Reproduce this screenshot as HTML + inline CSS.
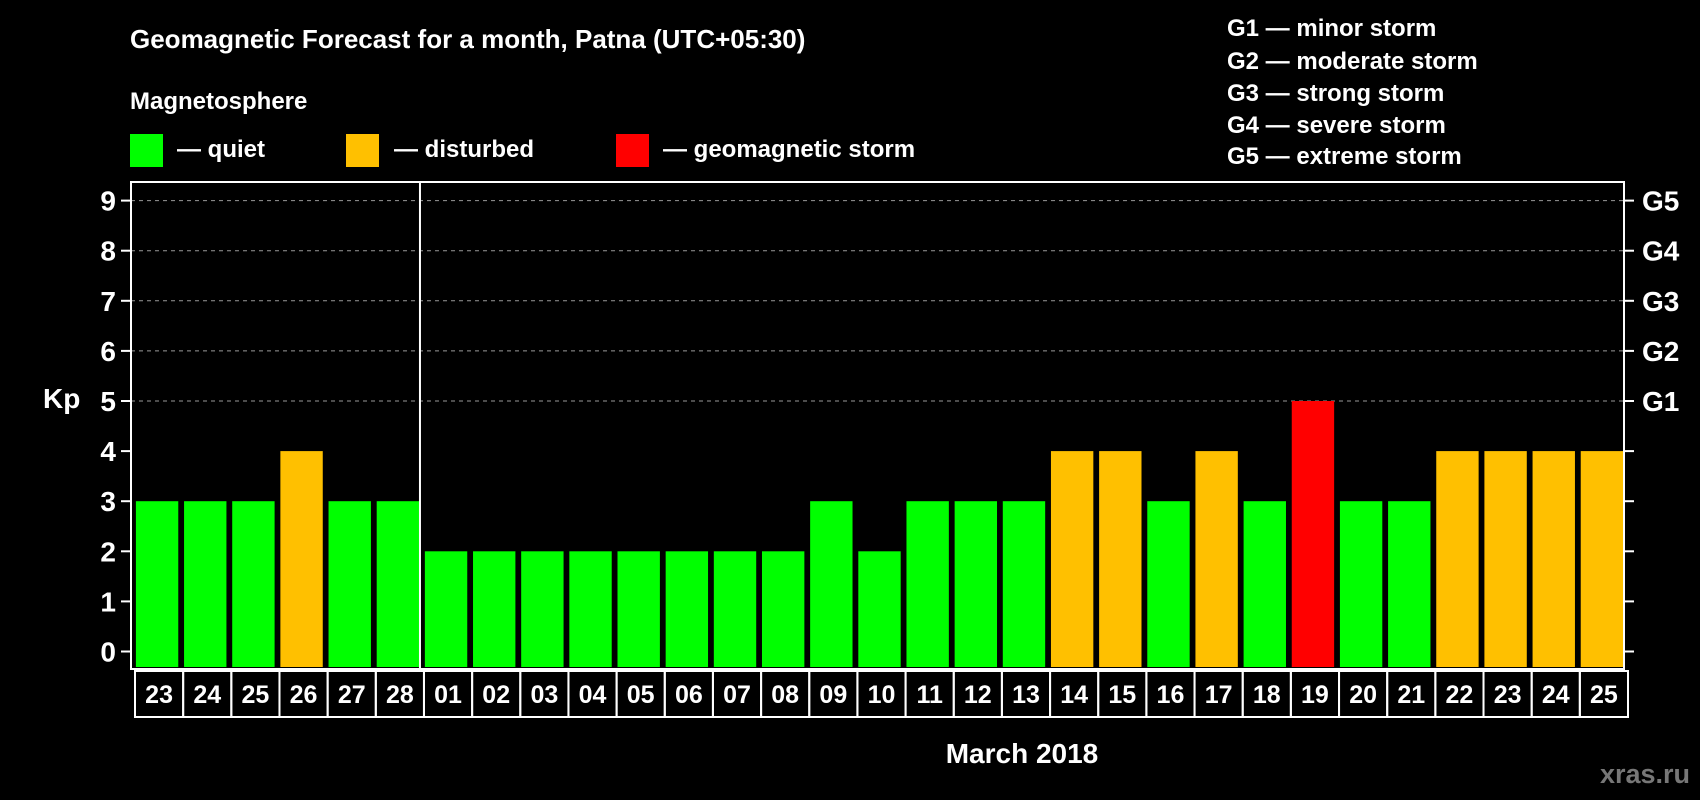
<!DOCTYPE html>
<html><head><meta charset="utf-8"><style>
html,body{margin:0;padding:0;background:#000;width:1700px;height:800px;overflow:hidden}
svg{display:block;font-family:"Liberation Sans",Arial,sans-serif;font-weight:bold}
</style></head><body>
<svg id="chart" width="1700" height="800" viewBox="0 0 1700 800">
<rect width="1700" height="800" fill="#000"/>
<text x="130" y="48" fill="#fff" font-size="26">Geomagnetic Forecast for a month, Patna (UTC+05:30)</text>
<text x="130" y="109" fill="#fff" font-size="24">Magnetosphere</text>
<g><rect x="130" y="134" width="33" height="33" fill="#00ff00"/><text x="177" y="157" fill="#fff" font-size="24">— quiet</text></g>
<g><rect x="346" y="134" width="33" height="33" fill="#ffc000"/><text x="394" y="157" fill="#fff" font-size="24">— disturbed</text></g>
<g><rect x="616" y="134" width="33" height="33" fill="#ff0000"/><text x="663" y="157" fill="#fff" font-size="24">— geomagnetic storm</text></g>
<g fill="#fff" font-size="24">
<text x="1227" y="36">G1 — minor storm</text>
<text x="1227" y="69">G2 — moderate storm</text>
<text x="1227" y="101">G3 — strong storm</text>
<text x="1227" y="133">G4 — severe storm</text>
<text x="1227" y="164">G5 — extreme storm</text>
</g>
<text x="43" y="408" fill="#fff" font-size="28">Kp</text>
<text x="1022" y="763" fill="#fff" font-size="28" text-anchor="middle">March 2018</text>
<text x="1690" y="783" fill="#777" font-size="27" text-anchor="end">xras.ru</text>
<g id="plot"></g>
</svg>
<script>
const days = ["23","24","25","26","27","28","01","02","03","04","05","06","07","08","09","10","11","12","13","14","15","16","17","18","19","20","21","22","23","24","25"];
const kpValues = [3,3,3,4,3,3,2,2,2,2,2,2,2,2,3,2,3,3,3,4,4,3,4,3,5,3,3,4,4,4,4];
const yTicks = [0,1,2,3,4,5,6,7,8,9];
const gLabels = ["G1","G2","G3","G4","G5"];
const gLevels = [5,6,7,8,9];
const monthStartIndex = 6;

const L=131,R=1624,T=182,B=669,y0=651.5,unit=50.1;
const NS="http://www.w3.org/2000/svg";
const g=document.getElementById('plot');
const band=(R-L)/days.length;
function yS(v){return y0-v*unit;}
function xS(i){return L+i*band;}
function mk(tag,attrs,parent){const e=document.createElementNS(NS,tag);for(const k in attrs)e.setAttribute(k,attrs[k]);(parent||g).appendChild(e);return e;}

yTicks.forEach(v=>{
  if(v>=5){const ln=mk('line',{x1:L,x2:R,y1:yS(v),y2:yS(v),stroke:'#999','stroke-dasharray':'4,4','stroke-width':1});
  
  }
  const t1=mk('line',{x1:L-10,x2:L,y1:yS(v),y2:yS(v),stroke:'#fff','stroke-width':2});
  
  
  const t2=mk('line',{x1:R,x2:R+10,y1:yS(v),y2:yS(v),stroke:'#fff','stroke-width':2});
  
  
  const tx=mk('text',{x:L-15,y:yS(v)+10,fill:'#fff','font-size':28,'text-anchor':'end'});
  tx.textContent=v;
  
  
});
gLabels.forEach((lab,i)=>{
  const tx=mk('text',{x:R+18,y:yS(gLevels[i])+10,fill:'#fff','font-size':28});
  tx.textContent=lab;
  
  
});
kpValues.forEach((v,i)=>{
  const col=v>=5?'#ff0000':(v>=4?'#ffc000':'#00ff00');
  const w=band*0.88;
  const r=mk('rect',{x:xS(i)+(band-w)/2+2,y:yS(v),width:w,height:B-yS(v)-2,fill:col});
  
  
});
const frame=mk('rect',{x:L,y:T,width:R-L,height:B-T,fill:'none',stroke:'#fff','stroke-width':2});


const div=mk('line',{x1:xS(monthStartIndex),x2:xS(monthStartIndex),y1:T,y2:B,stroke:'#fff','stroke-width':2});


days.forEach((d,i)=>{
  const bx=mk('rect',{x:xS(i)+4,y:B+2,width:band,height:46,fill:'none',stroke:'#fff','stroke-width':2});
  
  
  const tx=mk('text',{x:xS(i)+4+band/2,y:B+34,fill:'#fff','font-size':25,'text-anchor':'middle'});
  tx.textContent=d;
  
  
});
</script>
</body></html>
